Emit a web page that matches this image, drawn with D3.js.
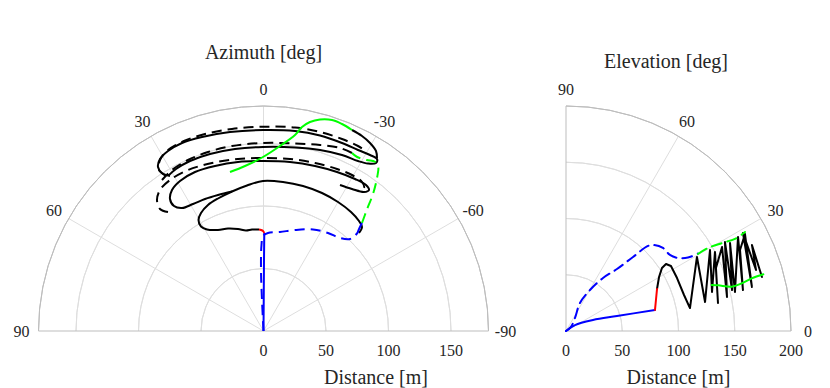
<!DOCTYPE html>
<html><head><meta charset="utf-8">
<script src="https://cdn.jsdelivr.net/npm/d3@7"></script>
<style>
html,body{margin:0;padding:0;background:#fff;}
svg{display:block;}
text{font-family:"Liberation Serif","Times New Roman",serif;fill:#262626;}
</style></head>
<body>
<svg id="chart" width="830" height="388"></svg>
<script>
// ---------------- DATA ----------------
// Left chart (azimuth): trajectory points as [cross-range m (positive = left / +azimuth), down-range m]
const azTicks = [90, 60, 30, 0, -30, -60, -90];
const azDistTicks = [0, 50, 100, 150];
const azDistMax = 180;

const azBlueSolid = [[0,0],[-0.24,32.8],[-0.4,56.8],[-0.64,78.4]];
const azRedSolid = [[-0.64,78.4],[0.4,80],[2,80.8],[3.6,81.2]];
const azBlackA = [[3.6,81.2],[9.2,81.2],[14,80.4],[20.4,81.6],[28.4,82],[36.4,80.8],[45.2,81.2],[50,83.6],[52,88.8],[50,94.4],[44.4,100.8],[36.4,106],[25.2,111.6],[13.2,116.4],[0.4,120],[-15.6,119.2],[-31.6,116],[-46.8,110.4],[-59.6,103.2],[-70,95.2],[-76.4,88],[-78.8,83.2],[-76.4,78.4]];
const azBlackB = [[-61.2,116.8],[-70.8,113.6],[-80.4,111.2],[-84.4,112.8],[-82,116.8],[-73.2,121.6],[-58.8,127.2],[-41.2,132],[-21.2,135.2],[0.4,136],[20.4,135.2],[38.8,132],[54.8,127.2],[66.8,120],[73.2,112.8],[74.8,105.6],[71.6,100],[65.2,98.4],[56.4,101.6],[46.8,105.6],[36.4,108.8],[25.2,111.6]];
const azBlackC = [[74.8,124],[81.2,126.4],[84.4,131.2],[82.8,137.6],[76.4,144],[65.2,150.4],[49.2,155.2],[26.8,159.2],[0.4,160.8],[-25.2,160],[-45.2,156.4],[-62.8,150.4],[-75.6,144.8],[-85.2,140.8],[-90.8,137.6],[-90,134.4],[-83.6,134],[-75.6,136],[-62.8,140.8],[-45.2,144.8],[-25.2,146.8],[0.4,147.2],[22.8,145.6],[42.8,141.6],[58.8,136],[70,129.6],[76.4,124]];
const azGreenSolid = [[26.8,127.2],[14.8,132],[0.4,139.2],[-13.2,148],[-25.2,156.8],[-30.8,163.2],[-37.2,167.2],[-45.2,169.2],[-54.8,168.8],[-62.8,165.6],[-70.8,160.8]];
const azBlackEnd = [[-70.8,160.8],[-78.8,156],[-85.2,150.4],[-90,144],[-90.8,138.4]];
const azBlueDashed = [[0,0],[1.2,24.8],[2,48.8],[1.6,68.8],[0.4,76],[-3.6,78.4],[-13.2,79.2],[-25.2,80.8],[-39.6,81.2],[-51.6,78.4],[-61.2,74.4],[-69.2,73.6],[-73.2,76],[-74.8,78.4]];
const azBlueStub = [[-74.8,77.6],[-76.8,82.4],[-78.8,86.4]];
const azGreenDashed = [[-78.8,86.4],[-82.6,96.8],[-87.8,110.2],[-91,123.4],[-91.8,131.4],[-89.2,135.4],[-82.6,136.8],[-74.6,139.4],[-70.8,142.4]];
const azBlackDashed1 = [[78,124],[83.6,128.8],[82.8,136.8],[76.4,144.8],[63.6,152],[46.8,157.6],[25.2,161.6],[0.4,163.4],[-25.2,162.8],[-45.2,159.2],[-62.8,153.6],[-75.6,148],[-82,144]];
const azBlackDashed2 = [[-70.8,142.4],[-61.2,146.4],[-45.2,148.8],[-25.2,150],[0.4,150.4],[25.2,148],[44.4,143.2],[60.4,136.8],[73.2,128.8],[81.2,120.8]];
const azBlackDashed3 = [[76.4,95.2],[82.8,97.6],[85.2,104.8],[82.8,112.8],[74.8,120.8],[60.4,128.8],[41.2,134.4],[20.4,137.6],[0.4,138.4],[-21.2,137.6],[-41.2,134.4],[-58.8,129.6],[-70.8,124.8],[-78.8,119.2],[-80.4,114.4],[-75.6,112]];

// Right chart (elevation): points as [horizontal m, vertical m]
const elTicks = [0, 30, 60, 90];
const elDistTicks = [0, 50, 100, 150, 200];
const elDistMax = 200;

const elBlueSolid = [[0,0],[8,5.3],[24,9.8],[45.3,13.3],[79.1,18.7]];
const elRedSolid = [[79.1,18.7],[80,28],[80.9,37.3]];
const elBlackSolid = [[80.9,37.3],[82.7,48],[85.3,56],[88.9,59.6],[93.3,57.8],[98.7,47.1],[104.9,32],[110.2,20.4],[116.4,65.8],[123.6,25.8],[128,72],[129.8,34.7],[132.4,70.2],[135.1,24.9],[133.3,56],[138.7,74.7],[143.1,30.2],[141.3,79.1],[147.6,36.4],[145.8,78.2],[150.2,34.7],[152.9,83.6],[157.3,36.4],[154.7,72],[159.1,86.2],[165.3,39.1],[157.3,87.1],[168.9,54.2],[165.3,76.4],[174.2,48]];
const elBlueDashed = [[0,0],[4.4,3.6],[8,11.6],[12.4,24.9],[21.3,36.4],[32.9,47.1],[45.3,55.1],[59.6,65.8],[72.9,75.6],[78.2,76.4],[86.2,73.8],[92.4,67.6],[99.6,64.9],[108.4,65.3],[117.3,68.9]];
const elGreenDashed = [[117.3,68.4],[126.2,73.8],[138.7,78.2],[150.2,81.8],[159.1,88]];
const elGreenSolid = [[129.5,40.9],[135.4,40.6],[147.3,39.4],[156.2,42.4],[165.1,46.8],[175.4,50.4]];

// ---------------- DRAW ----------------
const svg = d3.select("#chart");
const gridColor = "#dedede", edgeColor = "#bdbdbd";
const DEG = Math.PI / 180;
const DASH = "10,6";

// ===== Left: azimuth half-polar =====
const L = {cx: 263.5, cy: 331, R: 225};
const rL = d3.scaleLinear().domain([0, azDistMax]).range([0, L.R]);
const aL = d3.scaleLinear().domain([-90, 90]).range([Math.PI/2, -Math.PI/2]); // radians clockwise from north
const gL = svg.append("g").attr("transform", `translate(${L.cx},${L.cy})`);

const arcGen = d3.arc();
azDistTicks.filter(d => d > 0).forEach(d => {
  gL.append("path").attr("d", arcGen({innerRadius: rL(d), outerRadius: rL(d), startAngle: -Math.PI/2, endAngle: Math.PI/2}))
    .attr("fill", "none").attr("stroke", gridColor).attr("stroke-width", 1);
});
azTicks.filter(a => Math.abs(a) < 90).forEach(a => {
  const t = aL(a);
  gL.append("line").attr("x1", 0).attr("y1", 0)
    .attr("x2", rL(azDistMax) * Math.sin(t)).attr("y2", -rL(azDistMax) * Math.cos(t))
    .attr("stroke", gridColor).attr("stroke-width", 1);
});
gL.append("path").attr("d", arcGen({innerRadius: rL(azDistMax), outerRadius: rL(azDistMax), startAngle: -Math.PI/2, endAngle: Math.PI/2}))
  .attr("fill", "none").attr("stroke", edgeColor).attr("stroke-width", 1);
gL.append("line").attr("x1", -rL(azDistMax)).attr("x2", rL(azDistMax)).attr("y1", 0).attr("y2", 0)
  .attr("stroke", edgeColor).attr("stroke-width", 1);

azTicks.forEach(a => {
  const t = aL(a), rr = L.R + 17;
  gL.append("text").attr("x", rr * Math.sin(t)).attr("y", -rr * Math.cos(t))
    .attr("text-anchor", "middle").attr("dominant-baseline", "central")
    .attr("font-size", 16).text(a);
});
azDistTicks.forEach(d => {
  gL.append("text").attr("x", rL(d)).attr("y", 25).attr("text-anchor", "middle")
    .attr("font-size", 16).text(d);
});
svg.append("text").attr("x", L.cx).attr("y", 59).attr("text-anchor", "middle").attr("font-size", 20).text("Azimuth [deg]");
svg.append("text").attr("x", L.cx + L.R/2).attr("y", 384).attr("text-anchor", "middle").attr("font-size", 20).text("Distance [m]");

const lineL = d3.lineRadial()
  .angle(p => aL(Math.atan2(p[0], p[1]) / DEG))
  .radius(p => rL(Math.hypot(p[0], p[1])))
  .curve(d3.curveCatmullRom.alpha(0.5));

function drawL(data, color, dashed) {
  gL.append("path").attr("d", lineL(data)).attr("fill", "none").attr("stroke", color)
    .attr("stroke-width", 2).attr("stroke-linejoin", "round")
    .attr("stroke-dasharray", dashed ? DASH : null);
}
drawL(azBlackDashed1, "#000", true);
drawL(azBlackDashed2, "#000", true);
drawL(azBlackDashed3, "#000", true);
drawL(azBlackA, "#000", false);
drawL(azBlackB, "#000", false);
drawL(azBlackC, "#000", false);
drawL(azBlackEnd, "#000", false);
drawL(azGreenSolid, "#00ff00", false);
drawL(azGreenDashed, "#00ff00", true);
drawL(azBlueDashed, "#0000ff", true);
drawL(azBlueStub, "#0000ff", false);
drawL(azBlueSolid, "#0000ff", false);
drawL(azRedSolid, "#ff0000", false);

// ===== Right: elevation quarter-polar =====
const Rt = {cx: 566, cy: 331, R: 225};
const rR = d3.scaleLinear().domain([0, elDistMax]).range([0, Rt.R]);
const aR = d3.scaleLinear().domain([0, 90]).range([Math.PI/2, 0]);
const gR = svg.append("g").attr("transform", `translate(${Rt.cx},${Rt.cy})`);

elDistTicks.filter(d => d > 0 && d < elDistMax).forEach(d => {
  gR.append("path").attr("d", arcGen({innerRadius: rR(d), outerRadius: rR(d), startAngle: 0, endAngle: Math.PI/2}))
    .attr("fill", "none").attr("stroke", gridColor).attr("stroke-width", 1);
});
elTicks.filter(a => a > 0 && a < 90).forEach(a => {
  const t = aR(a);
  gR.append("line").attr("x1", 0).attr("y1", 0)
    .attr("x2", rR(elDistMax) * Math.sin(t)).attr("y2", -rR(elDistMax) * Math.cos(t))
    .attr("stroke", gridColor).attr("stroke-width", 1);
});
gR.append("path").attr("d", arcGen({innerRadius: rR(elDistMax), outerRadius: rR(elDistMax), startAngle: 0, endAngle: Math.PI/2}))
  .attr("fill", "none").attr("stroke", edgeColor).attr("stroke-width", 1);
gR.append("line").attr("x1", 0).attr("x2", rR(elDistMax)).attr("y1", 0).attr("y2", 0).attr("stroke", edgeColor);
gR.append("line").attr("x1", 0).attr("x2", 0).attr("y1", 0).attr("y2", -rR(elDistMax)).attr("stroke", edgeColor);

elTicks.forEach(a => {
  const t = aR(a), rr = Rt.R + 17;
  gR.append("text").attr("x", rr * Math.sin(t)).attr("y", -rr * Math.cos(t))
    .attr("text-anchor", "middle").attr("dominant-baseline", "central")
    .attr("font-size", 16).text(a);
});
elDistTicks.forEach(d => {
  gR.append("text").attr("x", rR(d)).attr("y", 25).attr("text-anchor", "middle")
    .attr("font-size", 16).text(d);
});
svg.append("text").attr("x", 666).attr("y", 68).attr("text-anchor", "middle").attr("font-size", 20).text("Elevation [deg]");
svg.append("text").attr("x", Rt.cx + Rt.R/2).attr("y", 384).attr("text-anchor", "middle").attr("font-size", 20).text("Distance [m]");

const lineR = d3.lineRadial()
  .angle(p => aR(Math.atan2(p[1], p[0]) / DEG))
  .radius(p => rR(Math.hypot(p[0], p[1])))
  .curve(d3.curveCatmullRom.alpha(0.5));
const lineRLinear = d3.lineRadial()
  .angle(p => aR(Math.atan2(p[1], p[0]) / DEG))
  .radius(p => rR(Math.hypot(p[0], p[1])))
  .curve(d3.curveLinear);
function drawR(data, color, dashed, gen) {
  gR.append("path").attr("d", (gen || lineR)(data)).attr("fill", "none").attr("stroke", color)
    .attr("stroke-width", 2).attr("stroke-linejoin", "round").attr("stroke-linecap", "round")
    .attr("stroke-dasharray", dashed ? DASH : null);
}
drawR(elBlackSolid, "#000", false, lineRLinear);
drawR(elBlueDashed, "#0000ff", true);
drawR(elGreenDashed, "#00ff00", true);
drawR(elGreenSolid, "#00ff00", false);
drawR(elBlueSolid, "#0000ff", false);
drawR(elRedSolid, "#ff0000", false);
</script>
</body></html>
